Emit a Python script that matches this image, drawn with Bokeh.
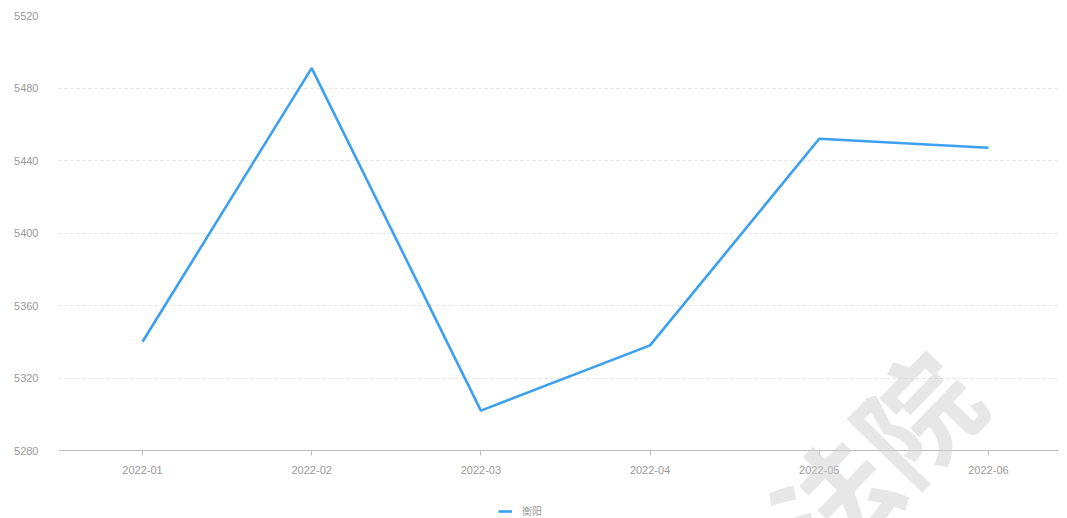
from bokeh.plotting import figure
from bokeh.models import (ColumnDataSource, FixedTicker, Legend, LegendItem,
                          Label, Range1d)
from bokeh.embed import file_html
from bokeh.resources import INLINE

# ---- data ----
months = ["2022-01", "2022-02", "2022-03", "2022-04", "2022-05", "2022-06"]
hengyang = [5340, 5491, 5302, 5338, 5452, 5447]
series_name = "衡阳"
y_ticks = [5280, 5320, 5360, 5400, 5440, 5480, 5520]

xs = list(range(len(months)))
src = ColumnDataSource(dict(x=xs, y=hengyang))

y_min, y_max = y_ticks[0], y_ticks[-1]
# extra room under the axis for tick labels + legend (frame reaches page bottom)
px_per_unit = 435 / (y_max - y_min)
y_bottom = y_min - 68 / px_per_unit

p = figure(frame_width=1001, frame_height=503,
           min_border_left=58, min_border_right=0, min_border_top=15,
           min_border_bottom=0,
           x_range=Range1d(-0.4965, 5.42), y_range=Range1d(y_bottom, y_max),
           output_backend="svg", toolbar_location=None,
           background_fill_color="white", border_fill_color="white")
p.outline_line_color = None

r = p.line("x", "y", source=src, line_color="#3ca0f0", line_width=2.6)

tick_color = "#9a9a9a"
font = "Liberation Sans"

# x axis pinned at the bottom value of the value scale
xa = p.xaxis[0]
xa.fixed_location = y_min
xa.ticker = FixedTicker(ticks=xs)
xa.major_label_overrides = {i: m for i, m in enumerate(months)}
xa.axis_line_color = "#bdbdbd"
xa.axis_line_width = 1
xa.major_tick_line_color = "#bdbdbd"
xa.major_tick_out = 5
xa.major_tick_in = 0
xa.minor_tick_line_color = None
xa.major_label_text_color = tick_color
xa.major_label_text_font = font
xa.major_label_text_font_size = "11px"
xa.major_label_standoff = 10

# y axis
ya = p.yaxis[0]
ya.ticker = FixedTicker(ticks=y_ticks)
ya.axis_line_color = None
ya.major_tick_line_color = None
ya.minor_tick_line_color = None
ya.major_label_text_color = tick_color
ya.major_label_text_font = font
ya.major_label_text_font_size = "11px"
ya.major_label_standoff = 14

p.xgrid.grid_line_color = None
p.ygrid.ticker = FixedTicker(ticks=y_ticks[1:])
p.ygrid.grid_line_color = "#e3e3e3"
p.ygrid.grid_line_dash = "3 3"
p.ygrid.grid_line_width = 1

legend = Legend(items=[LegendItem(label=series_name, renderers=[r])],
                orientation="horizontal", location=(440, 0),
                label_text_font_size="10px", label_text_color=tick_color,
                label_text_font="Noto Sans CJK SC",
                glyph_width=14, glyph_height=10, label_standoff=10,
                border_line_color=None, background_fill_alpha=0,
                padding=1, margin=0, spacing=0)
p.add_layout(legend, "center")

wm = Label(x=814, y=63, x_units="screen", y_units="screen",
           text="法院", angle=0.8, text_align="center", text_baseline="middle",
           text_font="Noto Sans CJK SC", text_font_size="118px",
           text_color="#cfcfcf", text_alpha=0.5, text_font_style="bold")
p.add_layout(wm)

open("out.html", "w").write(file_html(p, INLINE))
